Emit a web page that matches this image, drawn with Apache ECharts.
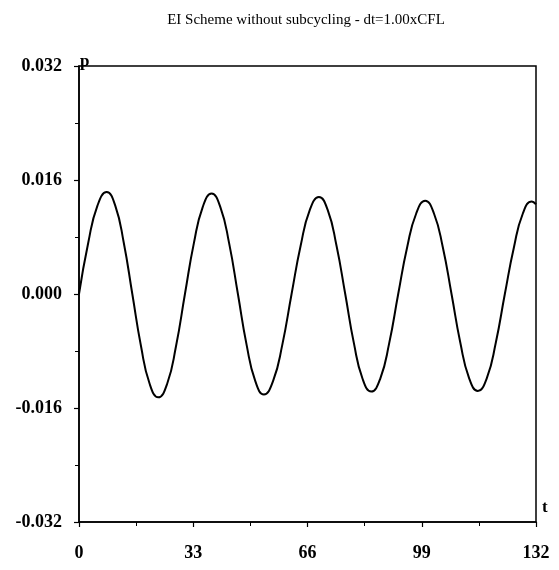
<!DOCTYPE html>
<html>
<head>
<meta charset="utf-8">
<script src="https://cdn.jsdelivr.net/npm/echarts@6/dist/echarts.min.js"></script>
<style>
  html, body { margin: 0; padding: 0; background: #fff; }
  #chart { width: 559px; height: 570px; }
</style>
</head>
<body>
<div id="chart"></div>
<script>
// Pressure signal: zero crossings, peaks/troughs
// and two points in between on each quarter wave
const tValues = [
    0, 2.67, 5.33, 8.0, 10.47, 12.93,
    15.4, 17.9, 20.4, 22.9, 25.47, 28.03,
    30.6, 33.17, 35.73, 38.3, 40.83, 43.37,
    45.9, 48.4, 50.9, 53.4, 56.07, 58.73,
    61.4, 64.03, 66.67, 69.3, 71.83, 74.37,
    76.9, 79.4, 81.9, 84.4, 87.0, 89.6,
    92.2, 94.8, 97.4, 100.0, 102.53, 105.07,
    107.6, 110.13, 112.67, 115.2, 117.8, 120.4,
    123.0, 125.6, 128.2, 130.8, 132
];
const pValues = [
    0.0000, 0.0072, 0.0124, 0.0143, 0.0124, 0.0072,
    0.0000, -0.0073, -0.0126, -0.0145, -0.0126, -0.0073,
    0.0000, 0.0071, 0.0122, 0.0141, 0.0122, 0.0071,
    0.0000, -0.0071, -0.0122, -0.0141, -0.0122, -0.0071,
    0.0000, 0.0068, 0.0118, 0.0136, 0.0118, 0.0068,
    0.0000, -0.0069, -0.0119, -0.0137, -0.0119, -0.0069,
    0.0000, 0.0066, 0.0113, 0.0131, 0.0113, 0.0066,
    0.0000, -0.0068, -0.0118, -0.0136, -0.0118, -0.0068,
    0.0000, 0.0065, 0.0113, 0.0130, 0.0126
];

// Axis ticks
const xTicks = [0, 33, 66, 99, 132];
const yTicks = [-0.032, -0.016, 0.000, 0.016, 0.032];

const titleText = 'EI Scheme without subcycling - dt=1.00xCFL';
const fontFamily = '"Liberation Serif", "DejaVu Serif", serif';

const chart = echarts.init(document.getElementById('chart'), null, { renderer: 'canvas' });

const seriesData = tValues.map((t, i) => [t, pValues[i]]);

const option = {
    backgroundColor: '#fff',
    animation: false,
    title: {
        text: titleText,
        left: 301,
        textAlign: 'center',
        top: 8,
        textStyle: {
            fontFamily,
            fontSize: 15,
            fontWeight: 'normal',
            color: '#000',
        },
    },
    grid: {
        left: 79,
        right: 23,
        top: 66,
        bottom: 48,
        show: true,
        borderColor: '#000',
        borderWidth: 1.5,
        backgroundColor: 'transparent',
    },
    xAxis: {
        type: 'value',
        min: xTicks[0],
        max: xTicks[xTicks.length - 1],
        interval: xTicks[1] - xTicks[0],
        name: 't',
        nameLocation: 'end',
        nameGap: 6,
        nameTextStyle: {
            fontFamily,
            fontSize: 17,
            fontWeight: 'bold',
            color: '#000',
            verticalAlign: 'bottom',
            padding: [0, 0, 6, 0],
        },
        axisLine: { onZero: false, lineStyle: { color: '#000', width: 1.5 } },
        axisTick: { length: 5, lineStyle: { color: '#000', width: 1.2 } },
        minorTick: { show: true, splitNumber: 2, length: 4, lineStyle: { color: '#000', width: 1 } },
        splitLine: { show: false },
        axisLabel: {
            fontFamily,
            fontSize: 18,
            fontWeight: 'bold',
            color: '#000',
            margin: 22,
        },
    },
    yAxis: {
        type: 'value',
        min: yTicks[0],
        max: yTicks[yTicks.length - 1],
        interval: yTicks[1] - yTicks[0],
        name: 'p',
        nameLocation: 'end',
        nameGap: -4,
        nameTextStyle: {
            fontFamily,
            fontSize: 17,
            fontWeight: 'bold',
            color: '#000',
            align: 'left',
            padding: [0, 0, 0, 1],
        },
        axisLine: { show: true, onZero: false, lineStyle: { color: '#000', width: 1.5 } },
        axisTick: { show: true, length: 5, lineStyle: { color: '#000', width: 1.2 } },
        minorTick: { show: true, splitNumber: 2, length: 4, lineStyle: { color: '#000', width: 1 } },
        splitLine: { show: false },
        axisLabel: {
            fontFamily,
            fontSize: 18,
            fontWeight: 'bold',
            color: '#000',
            margin: 17,
            formatter: (v) => v.toFixed(3),
        },
    },
    series: [
        {
            type: 'line',
            data: seriesData,
            smooth: true,
            showSymbol: false,
            lineStyle: { color: '#000', width: 2 },
        },
    ],
};

chart.setOption(option);
</script>
</body>
</html>
